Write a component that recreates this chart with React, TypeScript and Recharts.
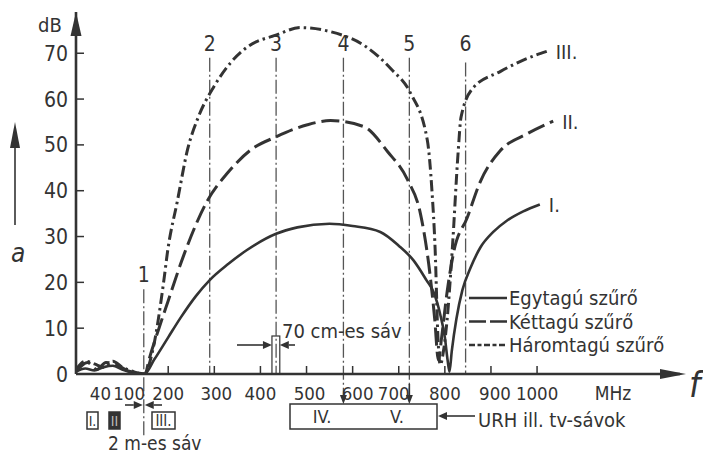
import React from 'react';
import { LineChart, Line, XAxis, YAxis, ReferenceLine } from 'recharts';

// ---------- data ----------
const freqI = [0, 20, 40, 60, 80, 100, 125, 148, 170, 200, 227, 260, 290, 330, 370, 434, 480, 550, 600, 660, 700, 732, 760, 775, 790, 800, 806, 810, 815, 825, 838, 855, 877, 905, 935, 970, 1006];
const dbI = [0.5, 1.2, 0.8, 1.5, 1.8, 1.0, 0.3, 0, 3.2, 8, 12.3, 17, 20.5, 24, 27, 30.6, 32, 32.8, 32.3, 31, 28, 24.8, 20.5, 18, 13, 8, 3, 0.5, 5, 12, 18.3, 23, 27.6, 31, 33.5, 35.5, 37];

const freqII = [0, 25, 45, 65, 85, 110, 135, 150, 158, 180, 200, 234, 286, 329, 379, 435, 502, 552, 624, 676, 719, 747, 765, 778, 786, 793, 805, 820, 848, 877, 920, 978, 1035];
const dbII = [0.5, 2.5, 1, 2.5, 2.2, 0.8, 0.2, 0, 3, 10, 16, 26, 38, 43.9, 48.9, 51.8, 54.4, 55.3, 54, 48.5, 42.4, 35, 24, 12, 3, 8, 18, 27, 34, 42, 48.7, 52.4, 55.2];

const freqIII = [0, 20, 40, 60, 80, 100, 125, 148, 166, 190, 199, 220, 242, 265, 299, 336, 372, 435, 487, 552, 628, 684, 725, 762, 772, 779, 785, 790, 797, 805, 816, 829, 835, 861, 920, 970, 1021];
const dbIII = [1, 2.8, 2.2, 1.5, 2.8, 1.5, 0.5, 0, 5, 20, 27, 37.8, 49, 56, 62.7, 68, 71.4, 74, 75.6, 74.7, 71.5, 66.5, 61.4, 51, 40, 27, 8, 2, 5, 12, 27, 48.7, 56, 62.4, 66, 68.5, 70.4];

const xTicks = [40, 100, 200, 300, 400, 500, 600, 700, 800, 900, 1000];
const yTicks = [0, 10, 20, 30, 40, 50, 60, 70];
const markerFreqs = [147, 290, 434, 580, 723, 845];
const markerLabels = ['1', '2', '3', '4', '5', '6'];
const curveLabels = ['I.', 'II.', 'III.'];
const legendLabels = ['Egytagú szűrő', 'Kéttagú szűrő', 'Háromtagú szűrő'];

// ---------- layout ----------
const W = 703, H = 455;
const LEFT = 76, RIGHT = 680, TOP = 12, BOTTOM = 374;
const X_MAX = 1310, Y_MAX = 79;
const px = (f: number) => LEFT + (f * (RIGHT - LEFT)) / X_MAX;
const py = (d: number) => BOTTOM - (d * (BOTTOM - TOP)) / Y_MAX;

const FONT = '"DejaVu Sans Condensed", "Liberation Sans Narrow", sans-serif';
const INK = '#333';
const GRID = '#555';

const markerExtent: [number, number][] = [[18.5, -13.5], [69, 0], [69, 0], [69, -6], [69, -6], [68, 0]];
const xLabelShift: Record<number, number> = { 40: 6, 100: 7, 300: 2, 500: 3, 600: 5, 700: -5, 900: 4 };

const seriesI = freqI.map((f, i) => ({ f, db: dbI[i] }));
const seriesII = freqII.map((f, i) => ({ f, db: dbII[i] }));
const seriesIII = freqIII.map((f, i) => ({ f, db: dbIII[i] }));
const allSeries = [seriesI, seriesII, seriesIII];

const DASH_I = undefined;
const DASH_II = '18 6';
const DASH_III = '11 4 2.5 4';
const dashes = [DASH_I, DASH_II, DASH_III];

function XTick(props: any) {
  const { x, y, payload } = props;
  const v = payload.value as number;
  return (
    <g>
      {v >= 200 && <line x1={x} x2={x} y1={y - 1} y2={y - 8} stroke={INK} strokeWidth={1.5} />}
      <text x={x + (xLabelShift[v] || 0)} y={y + 26} textAnchor="middle" fontFamily={FONT} fontSize={18.5} fill={INK}>
        {v}
      </text>
    </g>
  );
}

function YTick(props: any) {
  const { x, y, payload } = props;
  const v = payload.value as number;
  return (
    <g>
      {v > 0 && <line x1={x} x2={x + 8} y1={y} y2={y} stroke={INK} strokeWidth={1.5} />}
      <text x={x - 8} y={y} dy="0.36em" textAnchor="end" fontFamily={FONT} fontSize={21} fill={INK}>
        {v}
      </text>
    </g>
  );
}

function Arrow({ x1, y1, x2, y2, head = 9, half = 4 }: { x1: number; y1: number; x2: number; y2: number; head?: number; half?: number }) {
  const dx = x2 - x1, dy = y2 - y1;
  const len = Math.hypot(dx, dy) || 1;
  const ux = dx / len, uy = dy / len;
  const bx = x2 - ux * head, by = y2 - uy * head;
  const pts = `${x2},${y2} ${bx - uy * half},${by + ux * half} ${bx + uy * half},${by - ux * half}`;
  return (
    <g>
      <line x1={x1} y1={y1} x2={bx} y2={by} stroke={INK} strokeWidth={1.6} />
      <polygon points={pts} fill={INK} />
    </g>
  );
}

function Overlay() {
  const t = { fontFamily: FONT, fill: INK } as const;
  return (
    <svg width={W} height={H} style={{ position: 'absolute', left: 0, top: 0, pointerEvents: 'none' }}>
      {/* axis arrowheads */}
      <polygon points={`${LEFT - 5.5},36 ${LEFT},${TOP} ${LEFT + 5.5},36`} fill={INK} />
      <polygon points={`660,${BOTTOM - 5} 686,${BOTTOM} 660,${BOTTOM + 5}`} fill={INK} />
      <text x={689} y={397} {...t} fontSize={36} fontStyle="italic">f</text>
      <text x={38} y={32} {...t} fontSize={20}>dB</text>
      <text x={11} y={262} {...t} fontSize={26} fontStyle="italic">a</text>
      <Arrow x1={15} y1={225} x2={15} y2={122} head={26} half={5} />
      <text x={613} y={400} {...t} fontSize={19} textAnchor="middle">MHz</text>

      {/* marker numbers */}
      {markerFreqs.map((f, i) => (
        <text key={i} x={px(f)} y={i === 0 ? 282 : 51} {...t} fontSize={21} textAnchor="middle">
          {markerLabels[i]}
        </text>
      ))}

      {/* curve end labels */}
      {allSeries.map((s, i) => {
        const last = s[s.length - 1];
        return (
          <text key={i} x={px(last.f) + 9} y={py(last.db) + 8} {...t} fontSize={20}>
            {curveLabels[i]}
          </text>
        );
      })}

      {/* legend */}
      {legendLabels.map((lab, i) => {
        const ly = 298 + i * 23.5;
        return (
          <g key={i}>
            <line x1={469} x2={507} y1={ly} y2={ly} stroke={INK} strokeWidth={2.6} strokeDasharray={i === 1 ? '17 4' : i === 2 ? '6 2.5 4 2.5' : undefined} />
            <text x={509} y={ly + 7} {...t} fontSize={20}>{lab}</text>
          </g>
        );
      })}

      {/* 70 cm band */}
      <text x={282} y={338} {...t} fontSize={20}>70 cm-es sáv</text>
      <rect x={px(425)} y={336} width={px(442) - px(425)} height={BOTTOM - 336} fill="none" stroke={INK} strokeWidth={1.2} />
      <Arrow x1={237} y1={345} x2={px(425)} y2={345} />
      <Arrow x1={295} y1={345} x2={px(442)} y2={345} />

      {/* 2 m band */}
      <Arrow x1={125} y1={405} x2={px(147) - 1} y2={405} />
      <Arrow x1={162} y1={405} x2={px(147) + 1} y2={405} />
      <text x={108} y={450} {...t} fontSize={19}>2 m-es sáv</text>

      {/* TV band boxes I, II, III */}
      <rect x={87} y={412} width={11} height={17} fill="none" stroke={INK} strokeWidth={1.5} />
      <text x={92.5} y={426} {...t} fontSize={14} textAnchor="middle">I.</text>
      <rect x={109} y={412} width={11} height={17} fill={INK} stroke={INK} strokeWidth={1.5} />
      <text x={114.5} y={426} fontFamily={FONT} fill="#bbb" fontSize={14} textAnchor="middle">II</text>
      <rect x={152} y={412} width={23} height={17} fill="none" stroke={INK} strokeWidth={1.5} />
      <text x={163.5} y={426} {...t} fontSize={15} textAnchor="middle">III.</text>

      {/* IV / V box */}
      <rect x={290} y={404} width={147} height={25} fill="none" stroke={INK} strokeWidth={1.5} />
      <text x={322} y={423} {...t} fontSize={18} textAnchor="middle">IV.</text>
      <text x={397} y={423} {...t} fontSize={18} textAnchor="middle">V.</text>
      <Arrow x1={px(580)} y1={396} x2={px(580)} y2={404} head={9} half={3.5} />
      <Arrow x1={px(723)} y1={384} x2={px(723)} y2={404} head={9} half={3.5} />
      <Arrow x1={475} y1={416} x2={438} y2={416} />
      <text x={478} y={427} {...t} fontSize={20}>URH ill. tv-sávok</text>
    </svg>
  );
}

export default function App() {
  return (
    <div style={{ position: 'relative', width: W, height: H, background: '#fff' }}>
      <style>{`body{margin:0;background:#fff}`}</style>
      <LineChart width={W} height={H} margin={{ top: TOP, right: W - RIGHT, left: 0, bottom: 0 }}>
        <XAxis
          type="number"
          dataKey="f"
          domain={[0, X_MAX]}
          ticks={xTicks}
          interval={0}
          allowDataOverflow
          height={H - BOTTOM}
          tickSize={0}
          tickMargin={0}
          tickLine={false}
          tick={(p: any) => <XTick {...p} />}
          axisLine={{ stroke: INK, strokeWidth: 2.6 }}
        />
        <YAxis
          type="number"
          domain={[0, Y_MAX]}
          ticks={yTicks}
          interval={0}
          allowDataOverflow
          width={LEFT}
          tickSize={0}
          tickMargin={0}
          tickLine={false}
          tick={(p: any) => <YTick {...p} />}
          axisLine={{ stroke: INK, strokeWidth: 2.6 }}
        />
        {markerFreqs.map((f, i) => (
          <ReferenceLine
            key={i}
            ifOverflow="visible"
            segment={[{ x: f, y: markerExtent[i][0] }, { x: f, y: markerExtent[i][1] }]}
            stroke={GRID}
            strokeWidth={1.3}
            strokeDasharray="14 3 2 3"
          />
        ))}
        {allSeries.map((s, i) => (
          <Line
            key={i}
            data={s}
            dataKey="db"
            type="monotone"
            stroke={INK}
            strokeWidth={i === 0 ? 2.6 : 3}
            strokeDasharray={dashes[i]}
            dot={false}
            activeDot={false}
            isAnimationActive={false}
          />
        ))}
      </LineChart>
      <Overlay />
    </div>
  );
}
